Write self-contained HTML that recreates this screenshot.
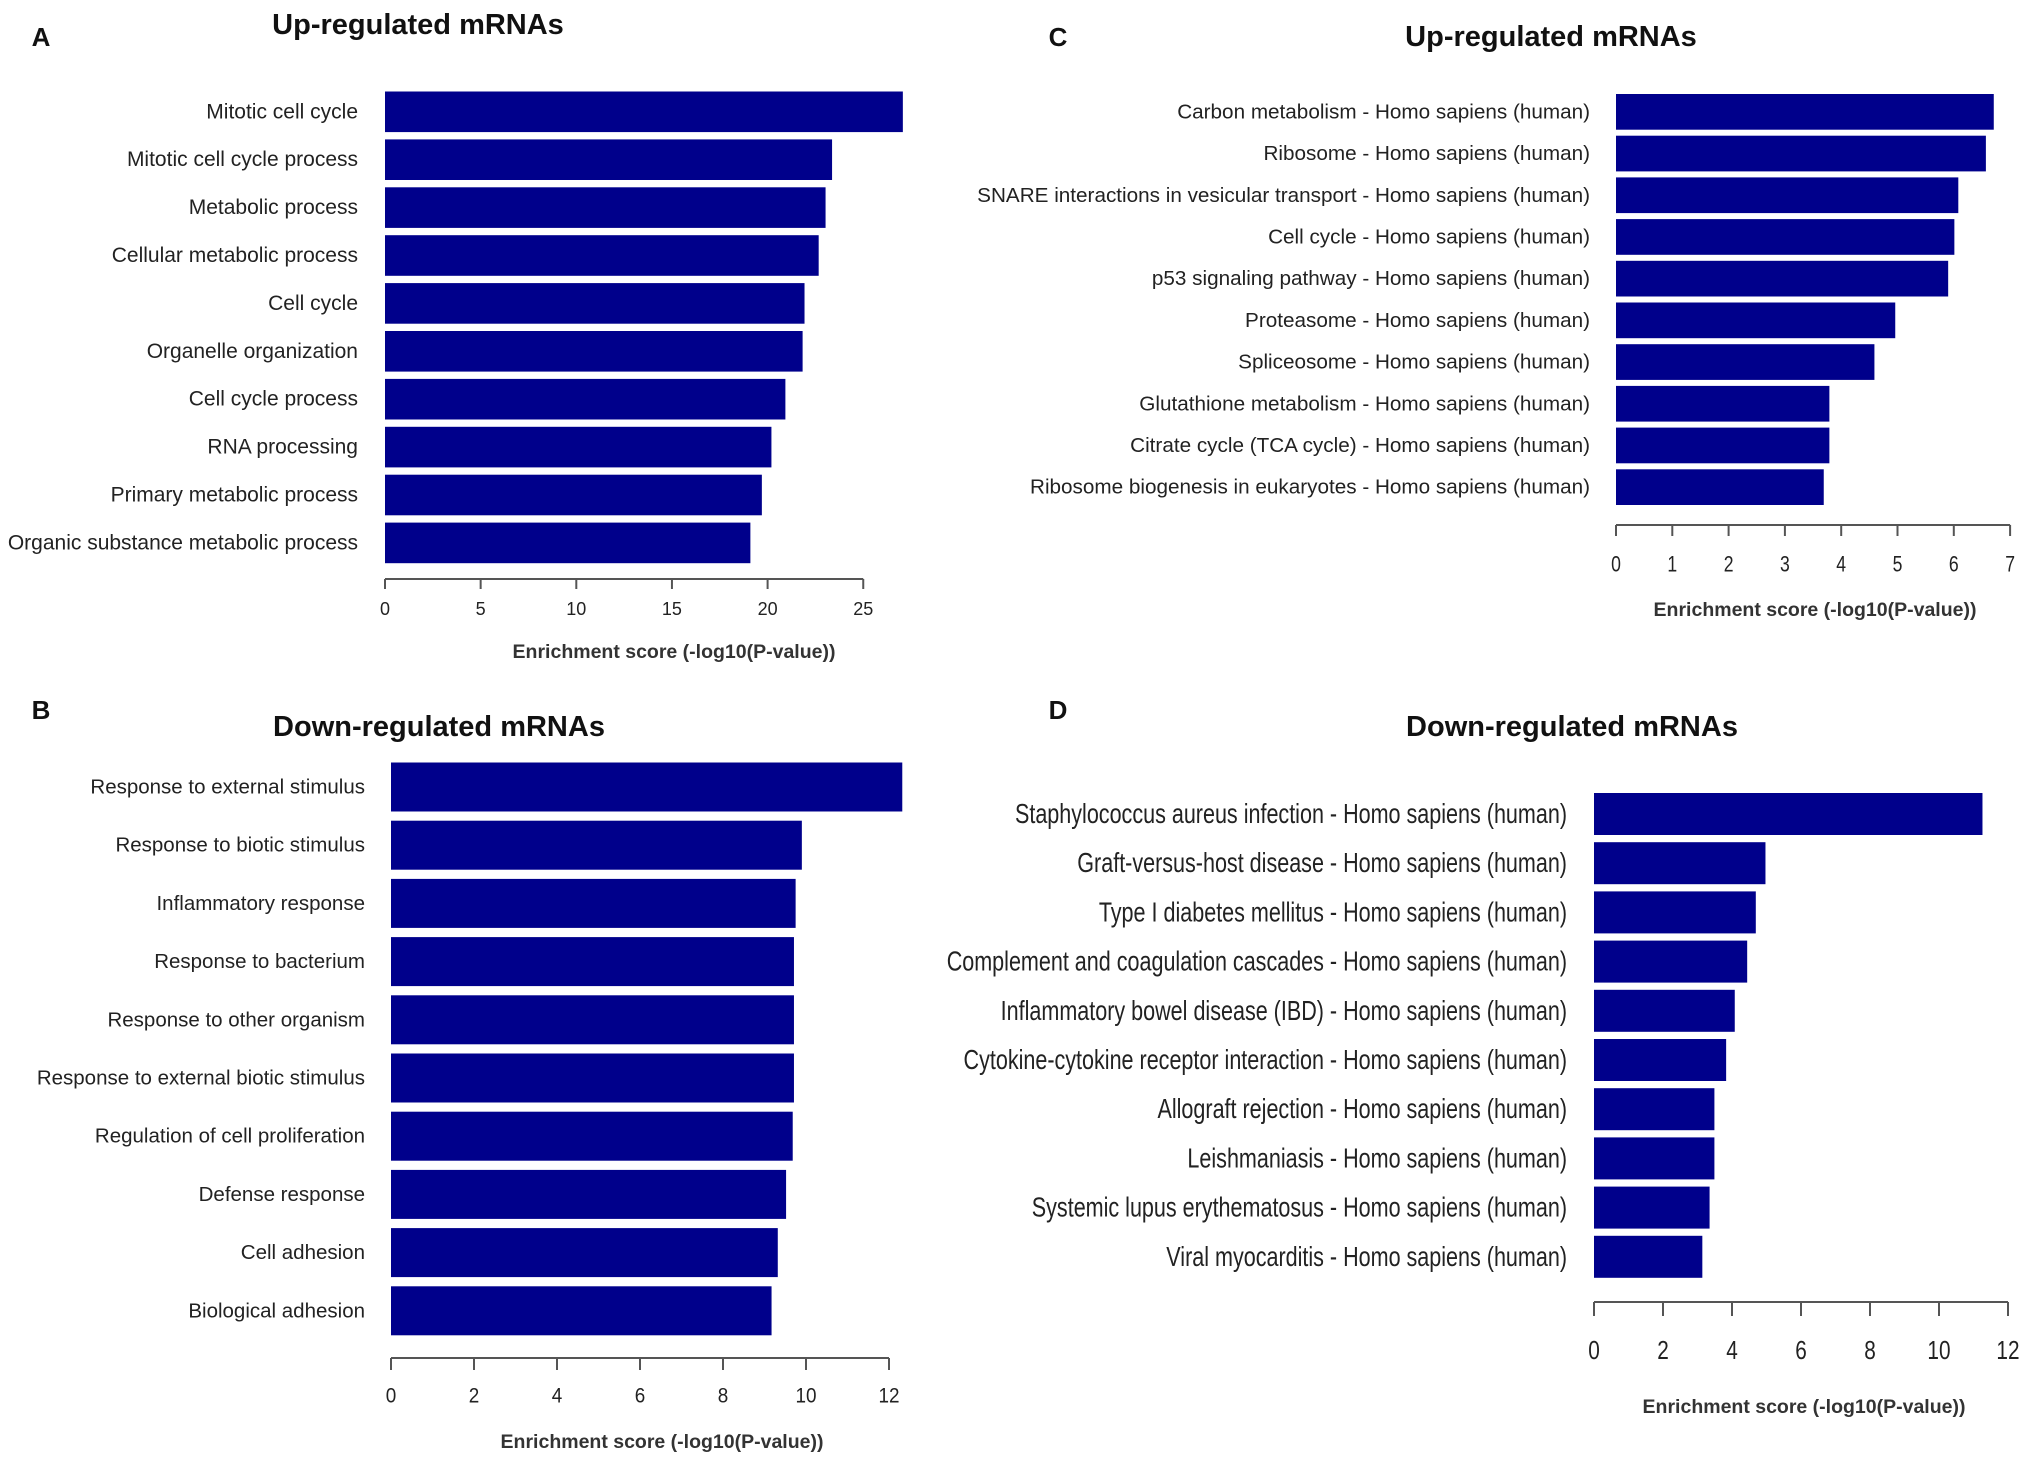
<!DOCTYPE html>
<html><head><meta charset="utf-8"><style>
html,body{margin:0;padding:0;background:#fff;}
svg{display:block;font-family:"Liberation Sans",Arial,sans-serif;}
</style></head><body>
<svg id="chart" width="2031" height="1466" viewBox="0 0 2031 1466" xmlns="http://www.w3.org/2000/svg"></svg>
<script>
// Panel A
const catsA = ["Mitotic cell cycle","Mitotic cell cycle process","Metabolic process","Cellular metabolic process","Cell cycle","Organelle organization","Cell cycle process","RNA processing","Primary metabolic process","Organic substance metabolic process"];
const valsA = [27.07,23.37,23.03,22.67,21.93,21.83,20.93,20.2,19.7,19.1];
const ticksA = [0,5,10,15,20,25];
// Panel B
const catsB = ["Response to external stimulus","Response to biotic stimulus","Inflammatory response","Response to bacterium","Response to other organism","Response to external biotic stimulus","Regulation of cell proliferation","Defense response","Cell adhesion","Biological adhesion"];
const valsB = [12.32,9.9,9.75,9.71,9.71,9.71,9.68,9.52,9.32,9.17];
const ticksB = [0,2,4,6,8,10,12];
// Panel C
const catsC = ["Carbon metabolism - Homo sapiens (human)","Ribosome - Homo sapiens (human)","SNARE interactions in vesicular transport - Homo sapiens (human)","Cell cycle - Homo sapiens (human)","p53 signaling pathway - Homo sapiens (human)","Proteasome - Homo sapiens (human)","Spliceosome - Homo sapiens (human)","Glutathione metabolism - Homo sapiens (human)","Citrate cycle (TCA cycle) - Homo sapiens (human)","Ribosome biogenesis in eukaryotes - Homo sapiens (human)"];
const valsC = [6.71,6.57,6.08,6.01,5.9,4.96,4.59,3.79,3.79,3.69];
const ticksC = [0,1,2,3,4,5,6,7];
// Panel D
const catsD = ["Staphylococcus aureus infection - Homo sapiens (human)","Graft-versus-host disease - Homo sapiens (human)","Type I diabetes mellitus - Homo sapiens (human)","Complement and coagulation cascades - Homo sapiens (human)","Inflammatory bowel disease (IBD) - Homo sapiens (human)","Cytokine-cytokine receptor interaction - Homo sapiens (human)","Allograft rejection - Homo sapiens (human)","Leishmaniasis - Homo sapiens (human)","Systemic lupus erythematosus - Homo sapiens (human)","Viral myocarditis - Homo sapiens (human)"];
const valsD = [11.26,4.97,4.69,4.44,4.08,3.83,3.49,3.49,3.35,3.14];
const ticksD = [0,2,4,6,8,10,12];

const NS="http://www.w3.org/2000/svg";
const svg=document.getElementById('chart');
function mk(tag,attrs,parent,text){const e=document.createElementNS(NS,tag);for(const k in attrs)e.setAttribute(k,attrs[k]);if(text!==undefined)e.textContent=text;(parent||svg).appendChild(e);return e;}

const panels=[
 {id:'a',letter:'A',lx:41,ly:37,title:'Up-regulated mRNAs',tx:418,ty:25,cats:catsA,vals:valsA,ticks:ticksA,
  x0:385,unit:19.13,top:91.5,pitch:47.9,bh:40.6,axisY:579,tickLen:10,tickLabY:609,titleX:674,titleY:652,
  labX:358,labFs:21,labSx:1,tickFs:18,tickSx:1},
 {id:'b',letter:'B',lx:41,ly:710,title:'Down-regulated mRNAs',tx:439,ty:727,cats:catsB,vals:valsB,ticks:ticksB,
  x0:391,unit:41.5,top:762.5,pitch:58.2,bh:49,axisY:1358,tickLen:12,tickLabY:1396,titleX:662,titleY:1442,
  labX:365,labFs:20.5,labSx:1,tickFs:21,tickSx:0.9},
 {id:'c',letter:'C',lx:1058,ly:37,title:'Up-regulated mRNAs',tx:1551,ty:37,cats:catsC,vals:valsC,ticks:ticksC,
  x0:1616,unit:56.3,top:94,pitch:41.7,bh:35.7,axisY:525,tickLen:11,tickLabY:565,titleX:1815,titleY:610,
  labX:1590,labFs:20.7,labSx:1,tickFs:22,tickSx:0.8},
 {id:'d',letter:'D',lx:1058,ly:710,title:'Down-regulated mRNAs',tx:1572,ty:727,cats:catsD,vals:valsD,ticks:ticksD,
  x0:1594,unit:34.5,top:793,pitch:49.2,bh:42,axisY:1302,tickLen:14,tickLabY:1350,titleX:1804,titleY:1407,
  labX:1567,labFs:28,labSx:0.77,tickFs:26,tickSx:0.8}
];

panels.forEach(p=>{
  const g=mk('g',{});
  
  
  const L=mk('text',{x:p.lx,y:p.ly,'font-size':26,'font-weight':'bold','text-anchor':'middle','dominant-baseline':'central',fill:'#111'},g,p.letter);
  
  
  const T=mk('text',{x:p.tx,y:p.ty,'font-size':29,'font-weight':'bold','text-anchor':'middle','dominant-baseline':'central',fill:'#111'},g,p.title);
  
  
  const xs=v=>p.x0+v*p.unit;
  p.cats.forEach((c,i)=>{
    const y=p.top+i*p.pitch;
    const r=mk('rect',{x:xs(0),y:y,width:xs(p.vals[i])-xs(0),height:p.bh,fill:'#00008B'},g);
    
    
    const t=mk('text',{x:p.labX/p.labSx,y:y+p.bh/2,'font-size':p.labFs,'text-anchor':'end','dominant-baseline':'central',fill:'#222',transform:'scale('+p.labSx+',1)'},g,c);
    
    
  });
  const tmin=p.ticks[0],tmax=p.ticks[p.ticks.length-1];
  const ax=mk('line',{x1:xs(tmin),x2:xs(tmax),y1:p.axisY,y2:p.axisY,stroke:'#555','stroke-width':2},g);
  
  
  p.ticks.forEach(v=>{
    const tk=mk('line',{x1:xs(v),x2:xs(v),y1:p.axisY,y2:p.axisY+p.tickLen,stroke:'#555','stroke-width':2},g);
    
    
    const tl=mk('text',{x:xs(v)/p.tickSx,y:p.tickLabY,'font-size':p.tickFs,'text-anchor':'middle','dominant-baseline':'central',fill:'#222',transform:'scale('+p.tickSx+',1)'},g,String(v));
    
    
  });
  const at=mk('text',{x:p.titleX,y:p.titleY,'font-size':19.5,'font-weight':'bold','text-anchor':'middle','dominant-baseline':'central',fill:'#333'},g,'Enrichment  score (-log10(P-value))');
  
  
});
</script>
</body></html>
